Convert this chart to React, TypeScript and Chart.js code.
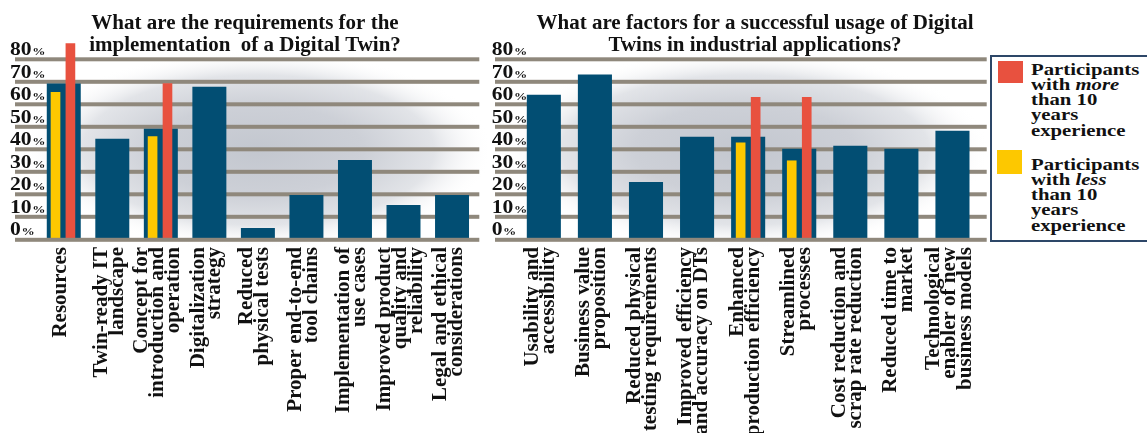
import React, { useEffect, useRef } from "react";
import { Chart, registerables } from "chart.js";

Chart.register(...registerables);

// ---------- data ----------
const yTickValues = [0, 10, 20, 30, 40, 50, 60, 70, 80];

const leftTitle = ["What are the requirements for the", "implementation  of a Digital Twin?"];
const leftCategories = [
  ["Resources"],
  ["Twin-ready IT", "landscape"],
  ["Concept for", "introduction and", "operation"],
  ["Digitalization", "strategy"],
  ["Reduced", "physical tests"],
  ["Proper end-to-end", "tool chains"],
  ["Implementation of", "use cases"],
  ["Improved product", "quality and", "reliability"],
  ["Legal and ethical", "considerations"],
];
const leftAll = [69.2, 44.7, 49.1, 67.8, 5.0, 19.7, 35.3, 15.3, 19.7];
const leftMore = [87, null, 69.2, null, null, null, null, null, null];
const leftLess = [65.3, null, 45.7, null, null, null, null, null, null];

const rightTitle = ["What are factors for a successful usage of Digital", "Twins in industrial applications?"];
const rightCategories = [
  ["Usability and", "accessibility"],
  ["Business value", "proposition"],
  ["Reduced physical", "testing requirements"],
  ["Improved efficiency", "and accuracy on DTs"],
  ["Enhanced", "production efficiency"],
  ["Streamlined", "processes"],
  ["Cost reduction and", "scrap rate reduction"],
  ["Reduced time to", "market"],
  ["Technological", "enabler of new", "business models"],
];
const rightAll = [64.3, 73.2, 25.5, 45.6, 45.6, 40.2, 41.6, 40.2, 48.2];
const rightMore = [null, null, null, null, 63.1, 63.1, null, null, null];
const rightLess = [null, null, null, null, 42.9, 34.9, null, null, null];

const legendMoreLabel = ["Participants", "with |more|", "than 10", "years", "experience"];
const legendLessLabel = ["Participants", "with |less|", "than 10", "years", "experience"];

// ---------- styles ----------
const BLUE = "#024e73";
const RED = "#e8513f";
const YELLOW = "#fdc800";
const GRID = "#8f887c";
const TEXT = "#111111";
const SERIF = '"Liberation Serif", "Times New Roman", serif';

type PanelCfg = {
  title: string[];
  categories: string[][];
  all: (number | null)[];
  more: (number | null)[];
  less: (number | null)[];
  left: number;
  width: number;
  padL: number;
  padR: number;
  gridX0: number;
  gridX1: number;
  yLabelX: number;
  titleX: number;
  bgX: number;
  bgY: number;
  bgRx: number;
  bgRy: number;
  blueBarPct: number;
  lessShift: number;
  moreShift: number;
  labelShift: number;
};

const HEIGHT = 433;
const PLOT_TOP = 59.3;
const PLOT_BOTTOM = 239.3;
const THIN_BAR = 9;

const panels: PanelCfg[] = [
  {
    title: leftTitle,
    categories: leftCategories,
    all: leftAll,
    more: leftMore,
    less: leftLess,
    left: 0,
    width: 487,
    padL: 39.5,
    padR: 10.7,
    gridX0: 15,
    gridX1: 479.3,
    yLabelX: 10,
    titleX: 245,
    bgX: 258,
    bgY: 150,
    bgRx: 235,
    bgRy: 100,
    blueBarPct: 0.7,
    lessShift: -0.17,
    moreShift: 0.137,
    labelShift: -3,
  },
  {
    title: rightTitle,
    categories: rightCategories,
    all: rightAll,
    more: rightMore,
    less: rightLess,
    left: 487,
    width: 503,
    padL: 31.3,
    padR: 12,
    gridX0: 8,
    gridX1: 499.7,
    yLabelX: 4.7,
    titleX: 268,
    bgX: 258,
    bgY: 150,
    bgRx: 245,
    bgRy: 100,
    blueBarPct: 0.667,
    lessShift: -0.147,
    moreShift: 0.147,
    labelShift: -3,
  },
];

function makeDeco(cfg: PanelCfg) {
  return {
    id: "panelDeco",
    beforeDraw(chart: any) {
      const ctx = chart.ctx as CanvasRenderingContext2D;
      ctx.save();
      ctx.fillStyle = "#ffffff";
      ctx.fillRect(0, 0, chart.width, chart.height);
      ctx.translate(cfg.bgX, cfg.bgY);
      ctx.scale(cfg.bgRx / cfg.bgRy, 1);
      const g = ctx.createRadialGradient(0, 0, 0, 0, 0, cfg.bgRy);
      g.addColorStop(0, "#c3c7cf");
      g.addColorStop(0.45, "#cdd0d7");
      g.addColorStop(0.75, "#e2e4e8");
      g.addColorStop(1, "rgba(255,255,255,0)");
      ctx.fillStyle = g;
      ctx.beginPath();
      ctx.arc(0, 0, cfg.bgRy, 0, Math.PI * 2);
      ctx.fill();
      ctx.restore();
    },
    beforeDatasetsDraw(chart: any) {
      const ctx = chart.ctx as CanvasRenderingContext2D;
      const y = chart.scales.y;
      ctx.save();
      ctx.fillStyle = GRID;
      for (const v of yTickValues) {
        if (v === 0) continue;
        const py = y.getPixelForValue(v);
        ctx.fillRect(cfg.gridX0, py - 2, cfg.gridX1 - cfg.gridX0, 4);
      }
      ctx.restore();
    },
    afterDatasetsDraw(chart: any) {
      const ctx = chart.ctx as CanvasRenderingContext2D;
      const y = chart.scales.y;
      const x = chart.scales.x;
      ctx.save();
      ctx.fillStyle = GRID;
      const p0 = y.getPixelForValue(0);
      ctx.fillRect(cfg.gridX0, p0 - 1.5, cfg.gridX1 - cfg.gridX0, 4);

      // y tick labels
      ctx.fillStyle = TEXT;
      ctx.textAlign = "left";
      ctx.textBaseline = "alphabetic";
      for (const v of yTickValues) {
        const py = y.getPixelForValue(v) - 4;
        ctx.save();
        ctx.translate(cfg.yLabelX, py);
        ctx.scale(1.2, 1);
        ctx.font = `bold 18px ${SERIF}`;
        const num = String(v);
        ctx.fillText(num, 0, 0);
        const w = ctx.measureText(num).width;
        ctx.font = `bold 11px ${SERIF}`;
        ctx.fillText("%", w + 0.5, 0);
        ctx.restore();
      }

      // title
      ctx.textAlign = "center";
      ctx.font = `bold 20px ${SERIF}`;
      cfg.title.forEach((t, j) => {
        ctx.save();
        ctx.translate(cfg.titleX, 28.5 + j * 22);
        ctx.scale(1.05, 1);
        ctx.fillText(t, 0, 0);
        ctx.restore();
      });

      // category labels (rotated)
      ctx.font = `bold 21px ${SERIF}`;
      ctx.textAlign = "right";
      ctx.textBaseline = "middle";
      cfg.categories.forEach((lines, i) => {
        const px = x.getPixelForValue(i) + cfg.labelShift;
        const n = lines.length;
        ctx.save();
        ctx.translate(px, 247);
        ctx.rotate(-Math.PI / 2);
        lines.forEach((ln, j) => {
          ctx.fillText(ln, 0, (j - (n - 1) / 2) * 16);
        });
        ctx.restore();
      });
      ctx.restore();
    },
  };
}

function toPoints(values: (number | null)[], shift: number) {
  const pts: { x: number; y: number }[] = [];
  values.forEach((v, i) => {
    if (v !== null) pts.push({ x: i + shift, y: v });
  });
  return pts;
}

function Panel({ cfg }: { cfg: PanelCfg }) {
  const ref = useRef<HTMLCanvasElement | null>(null);
  useEffect(() => {
    if (!ref.current) return;
    const n = cfg.categories.length;
    const chart = new Chart(ref.current, {
      type: "bar",
      data: {
        labels: cfg.categories.map((c) => c.join(" ")),
        datasets: [
          {
            label: "less than 10 years",
            data: toPoints(cfg.less, cfg.lessShift),
            backgroundColor: YELLOW,
            xAxisID: "xp",
            order: 0,
            grouped: false,
            barThickness: THIN_BAR,
            clip: false,
          } as any,
          {
            label: "more than 10 years",
            data: toPoints(cfg.more, cfg.moreShift),
            backgroundColor: RED,
            xAxisID: "xp",
            order: 1,
            grouped: false,
            barThickness: THIN_BAR,
            clip: false,
          } as any,
          {
            label: "all participants",
            data: cfg.all,
            backgroundColor: BLUE,
            xAxisID: "x",
            order: 2,
            grouped: false,
            categoryPercentage: 1,
            barPercentage: cfg.blueBarPct,
            clip: false,
          } as any,
        ],
      },
      options: {
        animation: false,
        responsive: false,
        maintainAspectRatio: false,
        devicePixelRatio: 1,
        layout: {
          padding: {
            left: cfg.padL,
            right: cfg.padR,
            top: PLOT_TOP,
            bottom: HEIGHT - PLOT_BOTTOM,
          },
        },
        plugins: {
          legend: { display: false },
          title: { display: false },
          tooltip: { enabled: false },
        },
        scales: {
          x: { type: "category", display: false, offset: true },
          xp: {
            type: "linear",
            axis: "x",
            position: "bottom",
            display: false,
            offset: false,
            grid: { offset: false },
            min: -0.5,
            max: n - 0.5,
          },
          y: { type: "linear", min: 0, max: 80, display: false },
        } as any,
      },
      plugins: [makeDeco(cfg)],
    });
    return () => chart.destroy();
  }, [cfg]);
  return (
    <canvas
      ref={ref}
      width={cfg.width}
      height={HEIGHT}
      style={{ position: "absolute", left: cfg.left, top: 0, width: cfg.width, height: HEIGHT }}
    />
  );
}

function LegendText({ lines }: { lines: string[] }) {
  return (
    <div
      style={{
        fontFamily: SERIF,
        fontWeight: "bold",
        fontSize: 17,
        lineHeight: "15.3px",
        color: TEXT,
        transform: "scaleX(1.22)",
        transformOrigin: "left top",
        whiteSpace: "nowrap",
      }}
    >
      {lines.map((ln, i) => {
        const parts = ln.split("|");
        return (
          <div key={i}>
            {parts.map((p, k) => (k % 2 === 1 ? <i key={k}>{p}</i> : <span key={k}>{p}</span>))}
          </div>
        );
      })}
    </div>
  );
}

export default function App() {
  return (
    <div
      style={{
        position: "absolute",
        left: 0,
        top: 0,
        width: 1147,
        height: HEIGHT,
        overflow: "hidden",
        background: "#ffffff",
      }}
    >
      {panels.map((p, i) => (
        <Panel key={i} cfg={p} />
      ))}
      <div
        style={{
          position: "absolute",
          left: 990,
          top: 55,
          width: 165,
          height: 187,
          border: "2px solid #2d4768",
          boxSizing: "border-box",
          background: "#ffffff",
        }}
      >
        <div style={{ position: "absolute", left: 6, top: 4, width: 25, height: 22, background: RED }} />
        <div style={{ position: "absolute", left: 39, top: 4.6 }}>
          <LegendText lines={legendMoreLabel} />
        </div>
        <div style={{ position: "absolute", left: 5, top: 93, width: 25, height: 24, background: YELLOW }} />
        <div style={{ position: "absolute", left: 39, top: 99.6 }}>
          <LegendText lines={legendLessLabel} />
        </div>
      </div>
    </div>
  );
}
